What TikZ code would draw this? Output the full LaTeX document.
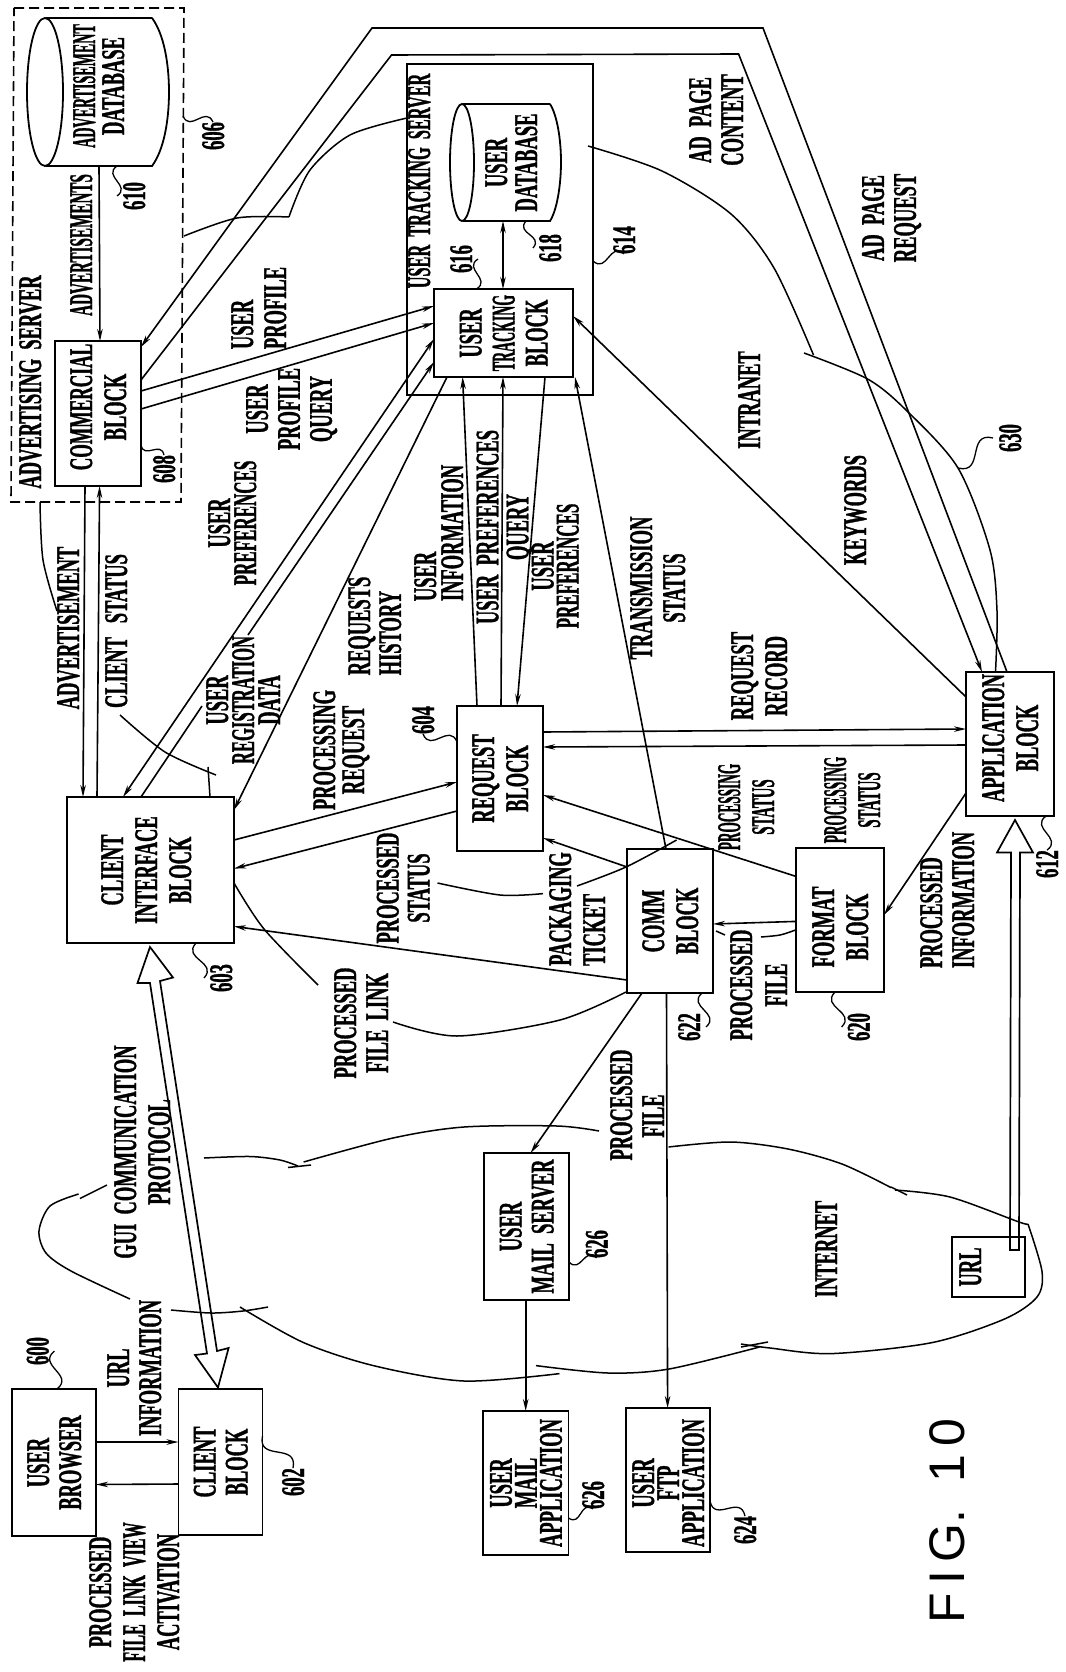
\documentclass[tikz,border=0pt]{standalone}
\usepackage{fontspec}
\usepackage{graphicx}
\setmainfont{Liberation Serif}[UprightFont=* Bold,BoldFont=* Bold,FakeStretch=0.56,FakeBold=1]
\newfontfamily\figfont{Liberation Sans}
\usetikzlibrary{arrows.meta,calc}
\newcommand\vtpre{}
\newcommand\vtpost{}
\newcommand\vtbox[3]{\rotatebox{90}{\vtpre\fontsize{33}{#2}\selectfont
  \setbox\strutbox=\hbox{\vrule height \dimexpr #2pt/2+11pt\relax depth \dimexpr #2pt/2-11pt\relax width 0pt}%
  \begin{tabular}{@{}#1@{}}#3\end{tabular}\vtpost}}
\newcommand\vt[2][34]{\vtbox{c}{#1}{#2}}
\newcommand\vl[2][34]{\vtbox{l}{#1}{#2}}
\newcommand\sx[2]{\scalebox{#1}[1]{#2}}
\newcommand\up[1]{\renewcommand\vtpre{\hspace*{#1pt}}}
\newcommand\down[1]{\renewcommand\vtpost{\hspace*{#1pt}}}
\tikzset{
  blk/.style={draw=black,line width=1.8pt,inner sep=0pt,outer sep=0pt},
  ghost/.style={inner sep=0pt,outer sep=0pt},
  lab/.style={inner sep=0pt,outer sep=0pt},
  wire/.style={draw=black,line width=1.6pt},
  arr/.style={wire,-{Stealth[length=12pt,width=5.5pt]}},
  rarr/.style={wire,{Stealth[length=12pt,width=5.5pt]}-},
  darr/.style={wire,{Stealth[length=12pt,width=5.5pt]}-{Stealth[length=12pt,width=5.5pt]}},
  cl/.style={draw=black,line width=1.5pt},
  lead/.style={draw=black,line width=1.3pt},
  hollow/.style={draw=black,line width=1.7pt,line join=miter}
}
\newcommand\sq[2]{\path (#1) coordinate (sqA) (#2) coordinate (sqB);
  \draw[lead] (sqA) .. controls ($(sqA)!0.6!-55:(sqB)$) and ($(sqB)!0.6!-55:(sqA)$) .. (sqB);}
\begin{document}
\begin{tikzpicture}[x=1pt,y=-1pt]
\fill[white] (0,0) rectangle (1065,1672);
\useasboundingbox (0,0) rectangle (1065,1672);

% containers
\draw[line width=1.6pt,dash pattern=on 10pt off 5pt] (14,8) -- (184,8) -- (181,502) -- (11,502) -- cycle;
\coordinate (d606) at (183,116);
\node[blk,minimum width=186pt,minimum height=331pt] (uts) at (500,229.5) {};
\node[lab] (advsrv) at (30,382) {\vt{ADVERTISING\ \ SERVER}};
\node[lab] (utssrv) at (419,181) {\vt{\sx{0.88}{USER\ \ TRACKING\ \ SERVER}}};

% cylinders
\draw[blk] (152,18) -- (45,18) -- (45,166) -- (152,166) .. controls (164,150) and (169,120) .. (169,92) .. controls (169,64) and (164,34) .. (152,18);
\fill[white] (44,17) rectangle (46,167);
\draw[blk] (45,92) ellipse (18pt and 74pt);
\draw[blk] (550,104) -- (462,104) -- (462,221) -- (550,221) .. controls (557,210) and (561,185) .. (561,162) .. controls (561,139) and (557,115) .. (550,104);
\fill[white] (461,103) rectangle (463,222);
\draw[blk] (462,162.5) ellipse (12pt and 58.5pt);
\node[ghost,minimum width=107pt,minimum height=148pt] (addb) at (98.5,92) {\up{12}\vt[29]{\sx{0.76}{ADVERTISEMENT}\\DATABASE}};
\node[ghost,minimum width=100pt,minimum height=117pt] (udb) at (511,162.5) {\vt[30]{USER\\DATABASE}};

% blocks
\node[blk,minimum width=86pt,minimum height=145pt] (com) at (98,413.5) {\up{13}\vt{\sx{0.94}{COMMERCIAL}\\BLOCK}};
\node[blk,minimum width=139pt,minimum height=88pt] (tr) at (503.5,333) {\vt[33]{USER\\\sx{0.75}{TRACKING}\\BLOCK}};
\node[blk,minimum width=167pt,minimum height=146pt] (ci) at (150.5,870) {\vt{CLIENT\\INTERFACE\\BLOCK}\hspace*{9pt}};
\node[blk,minimum width=86pt,minimum height=145pt] (req) at (500,778.5) {\vt{REQUEST\\BLOCK}};
\node[blk,minimum width=86pt,minimum height=144pt] (comm) at (670,921) {\vt{COMM\\BLOCK}};
\node[blk,minimum width=88pt,minimum height=144pt] (fmt) at (840,920) {\down{14}\vt{FORMAT\\BLOCK}};
\node[blk,minimum width=88pt,minimum height=144pt] (app) at (1010,744) {\up{12}\vt{APPLICATION\\BLOCK}};
\node[blk,minimum width=84pt,minimum height=147pt] (ub) at (54,1462.5) {\vt[32]{USER\\BROWSER}};
\node[blk,minimum width=84pt,minimum height=146pt] (cb) at (220.5,1462) {\vt[32]{CLIENT\\BLOCK}};
\node[blk,minimum width=85pt,minimum height=147pt] (ms) at (526.5,1226.5) {\vt[32]{USER\\MAIL\ \ SERVER}};
\node[blk,minimum width=85.5pt,minimum height=144pt] (ma) at (525.75,1483) {\vt[25]{USER\\MAIL\\APPLICATION}};
\node[blk,minimum width=84pt,minimum height=144pt] (ftp) at (668,1480) {\down{6}\vt[25]{USER\\FTP\\APPLICATION}};
\node[blk,minimum width=73pt,minimum height=60pt] (url) at (988.5,1267) {\vt{URL}\hspace*{37pt}};

% reference numbers
\node[lab] (l606) at (213,136) {\vt{606}};
\node[lab] (l610) at (134,196) {\vt{610}};
\node[lab] (l608) at (164,469) {\vt{608}};
\node[lab] (l616) at (461,259) {\vt{616}};
\node[lab] (l618) at (550,248) {\vt{618}};
\node[lab] (l614) at (624,240) {\vt{614}};
\node[lab] (l630) at (1010,438) {\vt{630}};
\node[lab] (l604) at (423,720) {\vt{604}};
\node[lab] (l603) at (221,978) {\vt{603}};
\node[lab] (l620) at (858.6,1027) {\vt{620}};
\node[lab] (l622) at (689,1027) {\vt{622}};
\node[lab] (l612) at (1047,864) {\vt{612}};
\node[lab] (l626a) at (596.6,1244) {\vt{626}};
\node[lab] (l626b) at (593,1495) {\vt{626}};
\node[lab] (l624) at (745,1530) {\vt{624}};
\node[lab] (l600) at (37.5,1351) {\vt{600}};
\node[lab] (l602) at (293,1482) {\vt{602}};

% leader squiggles
\sq{l606.north}{d606}
\sq{117,0 |- addb.south}{l610.west}
\sq{com.east |- 0,445}{l608.north}
\sq{476.5,0 |- tr.north}{l616.east}
\sq{526,0 |- udb.south}{l618.west}
\sq{uts.east |- 0,261}{l614.south}
\sq{958,468}{l630.west}
\sq{req.west |- 0,742}{l604.south}
\sq{196,0 |- ci.south}{l603.west}
\sq{835,0 |- fmt.south}{l620.west}
\sq{702,0 |- comm.south}{l622.east}
\sq{1046,0 |- app.south}{l612.north}
\sq{ms.east |- 0,1262}{l626a.south}
\sq{ma.east |- 0,1518}{l626b.south}
\sq{ftp.east |- 0,1501}{l624.north}
\sq{57,0 |- ub.north}{l600.east}
\sq{cb.east |- 0,1436}{l602.north}

% labels
\node[lab] at (81,245) {\vt{\sx{0.82}{ADVERTISEMENTS}}};
\node[lab] at (68,628) {\vt{ADVERTISEMENT}};
\node[lab] at (116,631) {\vt{CLIENT\ \ \ STATUS}};
\node[lab] at (258.5,308) {\vl[33]{USER\\PROFILE}};
\node[lab] at (289,409) {\vt[32]{USER\\PROFILE\\QUERY}};
\node[lab] at (232,523) {\vt[26]{USER\\\sx{0.92}{PREFERENCES}}};
\node[lab] at (243,700) {\vt[26]{USER\\\sx{0.9}{REGISTRATION}\\DATA}};
\node[lab] at (374.5,626) {\vl[29]{REQUESTS\\HISTORY}};
\node[lab] at (438.5,533) {\vl[27]{USER\\INFORMATION}};
\node[lab] at (503,527) {\vt[30]{USER\ \ PREFERENCES\\QUERY}};
\node[lab] at (555,566) {\vt[25]{USER\\\sx{0.92}{PREFERENCES}}};
\node[lab] at (339.5,750) {\vt[29]{PROCESSING\\REQUEST}};
\node[lab] at (403,888) {\vt[31]{PROCESSED\\STATUS}};
\node[lab] at (361,1023) {\vt[32]{PROCESSED\\FILE\ \ LINK}};
\node[lab] at (577,909) {\vl{PACKAGING\\TICKET}};
\node[lab] at (758.5,985) {\vt[35]{PROCESSED\\FILE}};
\node[lab] at (746,807) {\vt{\sx{0.72}{PROCESSING}\\\sx{0.8}{STATUS}}};
\node[lab] at (852,800) {\vt{\sx{0.72}{PROCESSING}\\\sx{0.8}{STATUS}}};
\node[lab] at (657.5,588) {\vt[33]{TRANSMISSION\\STATUS}};
\node[lab] at (759,676) {\vt{REQUEST\\RECORD}};
\node[lab] at (947,900) {\vl[32]{PROCESSED\\INFORMATION}};
\node[lab] at (716,120) {\vt[32]{AD\ \ PAGE\\CONTENT}};
\node[lab] at (889,218) {\vt[32]{AD\ \ PAGE\\REQUEST}};
\node[lab] at (749,400) {\vt{INTRANET}};
\node[lab] at (855,510) {\vt{KEYWORDS}};
\node[lab] at (826,1249) {\vt{INTERNET}};
\node[lab] at (621,1105) {\vt{PROCESSED}};
\node[lab] at (653,1116) {\vt{FILE}};
\node[lab] at (142,1152) {\vt{GUI\ \ COMMUNICATION\\PROTOCOL}};
\node[lab] at (134,1368) {\vt[32]{URL\\INFORMATION}};
\node[lab] at (134,1592) {\vt{PROCESSED\\\sx{0.87}{FILE\ \ LINK\ \ VIEW}\\ACTIVATION}};
\node[lab] (fig) at (947,1521) {\rotatebox{90}{\fontsize{50}{50}\figfont F\,I\,G.\ \ 1\,0}};

% connectors
\draw[arr] (99,0 |- addb.south) -- (100,0 |- com.north);
\draw[darr] (503,0 |- udb.south) -- (503,0 |- tr.north);
\draw[arr] (85,0 |- com.south) -- (83,0 |- ci.north);
\draw[rarr] (99.6,0 |- com.south) -- (97,0 |- ci.north);
\draw[rarr] (tr.west |- 0,306) -- (com.east |- 0,391);
\draw[arr] (com.east |- 0,409) -- (tr.west |- 0,323);
\coordinate (adA) at (372,28); \coordinate (adB) at (763,28);
\coordinate (adC) at (391.5,55); \coordinate (adD) at (738.6,54);
\draw[rarr] (com.east |- 0,347) -- (adA) -- (adB) -- (1007,0 |- app.north);
\draw[arr] (com.east |- 0,380) -- (adC) -- (adD) -- (982,0 |- app.north);
\draw[darr] (tr.west |- 0,339) -- (123,0 |- ci.north);
\coordinate (gapA) at (202,706); \coordinate (gapB) at (248,635);
\draw[wire] (141,0 |- ci.north) -- (gapA);
\draw[arr] (gapB) -- (tr.west |- 0,362);
\draw[arr] (447,0 |- tr.south) -- (ci.east |- 0,810);
\draw[rarr] (462.6,0 |- tr.south) -- (477,0 |- req.north);
\draw[rarr] (503,0 |- tr.south) -- (501,0 |- req.north);
\draw[arr] (545,0 |- tr.south) -- (517,0 |- req.north);
\draw[rarr] (575,0 |- tr.south) -- (666,0 |- comm.north);
\draw[rarr] (tr.east |- 0,316) -- (app.west |- 0,697);
\draw[arr] (ci.east |- 0,840) -- (req.west |- 0,782);
\draw[arr] (req.west |- 0,811) -- (ci.east |- 0,868.6);
\draw[arr] (comm.west |- 0,980) -- (ci.east |- 0,926.4);
\draw[arr] (comm.west |- 0,867) -- (req.east |- 0,838);
\draw[arr] (fmt.west |- 0,876.4) -- (req.east |- 0,795);
\draw[arr] (fmt.west |- 0,921.4) -- (comm.east |- 0,924);
\draw[arr] (req.east |- 0,732) -- (app.west |- 0,729);
\draw[arr] (app.west |- 0,745) -- (req.east |- 0,747);
\draw[arr] (app.west |- 0,793) -- (fmt.east |- 0,915);
\draw[arr] (642,0 |- comm.south) -- (530.6,0 |- ms.north);
\draw[arr] (666.5,0 |- comm.south) -- (667.6,0 |- ftp.north);
\draw[arr] (525.7,0 |- ms.south) -- (525.7,0 |- ma.north);
\draw[arr] (ub.east |- 0,1442) -- (cb.west |- 0,1442);
\draw[arr] (cb.west |- 0,1484) -- (ub.east |- 0,1484.5);

% hollow arrows
\draw[hollow] (1010,1250) -- (1011,852.5) -- (997,852.5) -- (1015,820) -- (1033,852.5) -- (1020,852.5) -- (1019,1250) -- cycle;
\draw[hollow] (150,947) -- (173,977.5) -- (160,981) -- (217,1351) -- (228.6,1348) -- (218,1387.5) -- (195,1355) -- (207,1353.5) -- (150,983) -- (137.5,983) -- cycle;

% intranet boundary
\draw[cl] plot[smooth] coordinates {(40,502) (43,560) (57,611)};
\draw[cl] plot[smooth] coordinates {(120,715) (165,752) (216,775)};
\draw[cl] (208,767) -- (210,797);
\draw[cl] plot[smooth] coordinates {(184,236) (237,218) (289,217)};
\draw[cl] plot[smooth] coordinates {(290,214) (310,170) (350,135) (407,118)};
\draw[cl] (289,217) -- (290,214);
\draw[cl] plot[smooth] coordinates {(588,146) (662,171) (731,214) (774,268) (813.5,355)};
\draw[cl] plot[smooth] coordinates {(804,353) (867.6,379) (907,411) (958,468) (990,550) (997,611) (995.5,672)};
\draw[cl] plot[smooth] coordinates {(234,883) (264,929) (318,985)};
\draw[cl] plot[smooth] coordinates {(393,1022) (457,1036) (560,1020) (626,992)};
\draw[cl] plot[smooth] coordinates {(437.5,883) (500,895) (543,893.6)};
\draw[cl] plot[smooth] coordinates {(577,886) (626,867) (676.6,840)};
\draw[cl] (716,931) -- (725,935);
\draw[cl] plot[smooth] coordinates {(761,937) (780,935) (795.5,930)};

% internet cloud
\draw[cl] plot[smooth] coordinates {(204,1158) (250,1156.5) (280,1160) (298,1166)};
\draw[cl] (288,1167.5) -- (311,1165);
\draw[cl] plot[smooth] coordinates {(303.6,1162) (393,1138) (464,1127) (557,1126) (599,1131)};
\draw[cl] plot[smooth] coordinates {(668.6,1147) (730.6,1142) (788,1149) (842,1164) (891,1187.6)};
\draw[cl] (891,1187) -- (907,1195);
\draw[cl] plot[smooth] coordinates {(895,1190) (950,1197) (1019,1222) (1028,1224)};
\draw[cl] plot[smooth] coordinates {(1028,1224) (1042,1271.5) (1037,1297) (1004.5,1319) (932,1342.6) (831.5,1353.6) (770,1348) (741,1344)};
\draw[cl] (768,1342) -- (741,1347);
\draw[cl] plot[smooth] coordinates {(759.5,1347) (669,1369) (608,1373) (536,1365.6)};
\draw[cl] plot[smooth] coordinates {(559.5,1373.6) (464,1381) (375,1366) (303.6,1342.6) (240,1307)};
\draw[cl] plot[smooth] coordinates {(268,1307) (243,1311) (211,1313) (171,1310)};
\draw[cl] plot[smooth] coordinates {(130,1299) (71,1271) (46,1253) (39,1231) (50,1206) (78.6,1194)};
\draw[cl] (80,1198.5) -- (107,1185);
\end{tikzpicture}
\end{document}
